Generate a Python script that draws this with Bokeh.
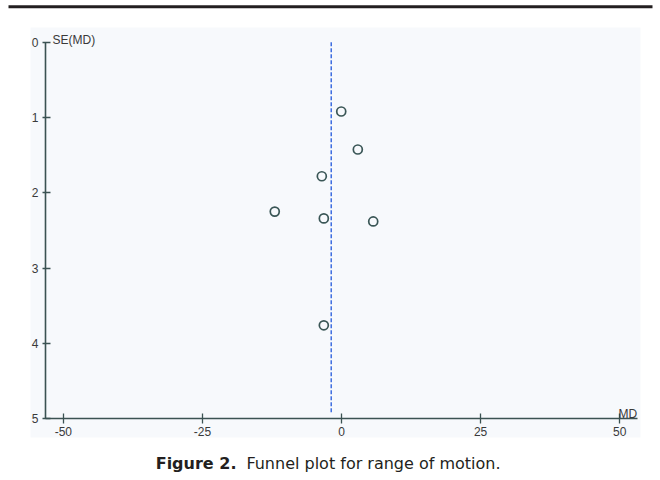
from bokeh.plotting import figure
from bokeh.models import (Range1d, LinearAxis, FixedTicker, BoxAnnotation, Label,
                          ColumnDataSource)
from bokeh.embed import file_html
from bokeh.resources import INLINE

# ---- data ----
md = [-0.05, 2.93, -3.54, -12.0, -3.18, 5.7, -3.18]
se = [0.92, 1.425, 1.78, 2.25, 2.34, 2.38, 3.76]
pooled_md = -1.85
pooled_se_span = [0.0, 4.93]
x_ticks = [-50, -25, 0, 25, 50]
x_tick_labels = ["-50", "-25", "0", "25", "50"]
y_ticks = [0, 1, 2, 3, 4, 5]
x_title = "MD"
y_title = "SE(MD)"
caption_bold = "Figure 2."
caption_text = "Funnel plot for range of motion."

AX = "#3b5252"
TXT = "#3a3a3a"

p = figure(width=660, height=480, output_backend="svg", toolbar_location=None,
           x_range=Range1d(-61.30, 57.34), y_range=Range1d(5.821, -0.554),
           x_axis_location=None, y_axis_location=None,
           min_border=0, min_border_left=0, min_border_right=0,
           min_border_top=0, min_border_bottom=0)
p.outline_line_color = None
p.background_fill_color = "white"
p.border_fill_color = "white"
for g in p.grid:
    g.visible = False

# light panel behind the plot
p.add_layout(BoxAnnotation(left=-55.9, right=53.75, top=-0.195, bottom=5.25,
                           fill_color="#f7f9fc", fill_alpha=1.0, line_color=None,
                           level="underlay"))
# top rule
p.add_layout(BoxAnnotation(left=-59.86, right=55.9, top=-0.49, bottom=-0.452,
                           fill_color="#231f20", fill_alpha=1.0, line_color=None,
                           level="underlay"))

# axes at fixed locations
yaxis = LinearAxis(fixed_location=-53.21, ticker=FixedTicker(ticks=y_ticks),
                   bounds=(0, 5))
yaxis.axis_line_color = AX
yaxis.axis_line_width = 1.6
yaxis.major_tick_line_color = AX
yaxis.major_tick_line_width = 1.3
yaxis.major_tick_in = 5
yaxis.major_tick_out = 3
yaxis.minor_tick_line_color = None
yaxis.major_label_text_font = "Liberation Sans"
yaxis.major_label_text_font_size = "12px"
yaxis.major_label_text_color = TXT
yaxis.major_label_standoff = 4
p.add_layout(yaxis, "left")

xaxis = LinearAxis(fixed_location=5, ticker=FixedTicker(ticks=x_ticks),
                   bounds=(-53.21, 53.15))
xaxis.axis_line_color = AX
xaxis.axis_line_width = 1.6
xaxis.major_tick_line_color = AX
xaxis.major_tick_line_width = 1.3
xaxis.major_tick_in = 5
xaxis.major_tick_out = 5
xaxis.minor_tick_line_color = None
xaxis.major_label_overrides = {t: s for t, s in zip(x_ticks, x_tick_labels)}
xaxis.major_label_text_font = "Liberation Sans"
xaxis.major_label_text_font_size = "12px"
xaxis.major_label_text_color = TXT
xaxis.major_label_standoff = 3
p.add_layout(xaxis, "below")

# pooled estimate line
p.segment(x0=[pooled_md], y0=[pooled_se_span[0]], x1=[pooled_md], y1=[pooled_se_span[1]],
          line_color="#3f6ee0", line_width=1.5, line_dash="4 2")

# studies
src = ColumnDataSource(dict(md=md, se=se))
p.scatter("md", "se", source=src, size=9, fill_color=None,
          line_color="#3a5656", line_width=1.7)

# axis titles
p.add_layout(Label(x=-51.95, y=-0.036, text=y_title, text_font="Liberation Sans",
                   text_font_size="12px", text_color=TXT, text_baseline="alphabetic"))
p.add_layout(Label(x=49.8, y=4.94, text=x_title, text_font="Liberation Sans",
                   text_font_size="12px", text_color=TXT, text_baseline="alphabetic"))

# caption
p.add_layout(Label(x=-33.4, y=5.6, text=caption_bold, text_font="DejaVu Sans",
                   text_font_size="16px", text_font_style="bold", text_color="#231f20",
                   text_baseline="alphabetic"))
p.add_layout(Label(x=-17.1, y=5.6, text=caption_text, text_font="DejaVu Sans",
                   text_font_size="16px", text_color="#231f20",
                   text_baseline="alphabetic"))

open("out.html", "w").write(file_html(p, INLINE))
